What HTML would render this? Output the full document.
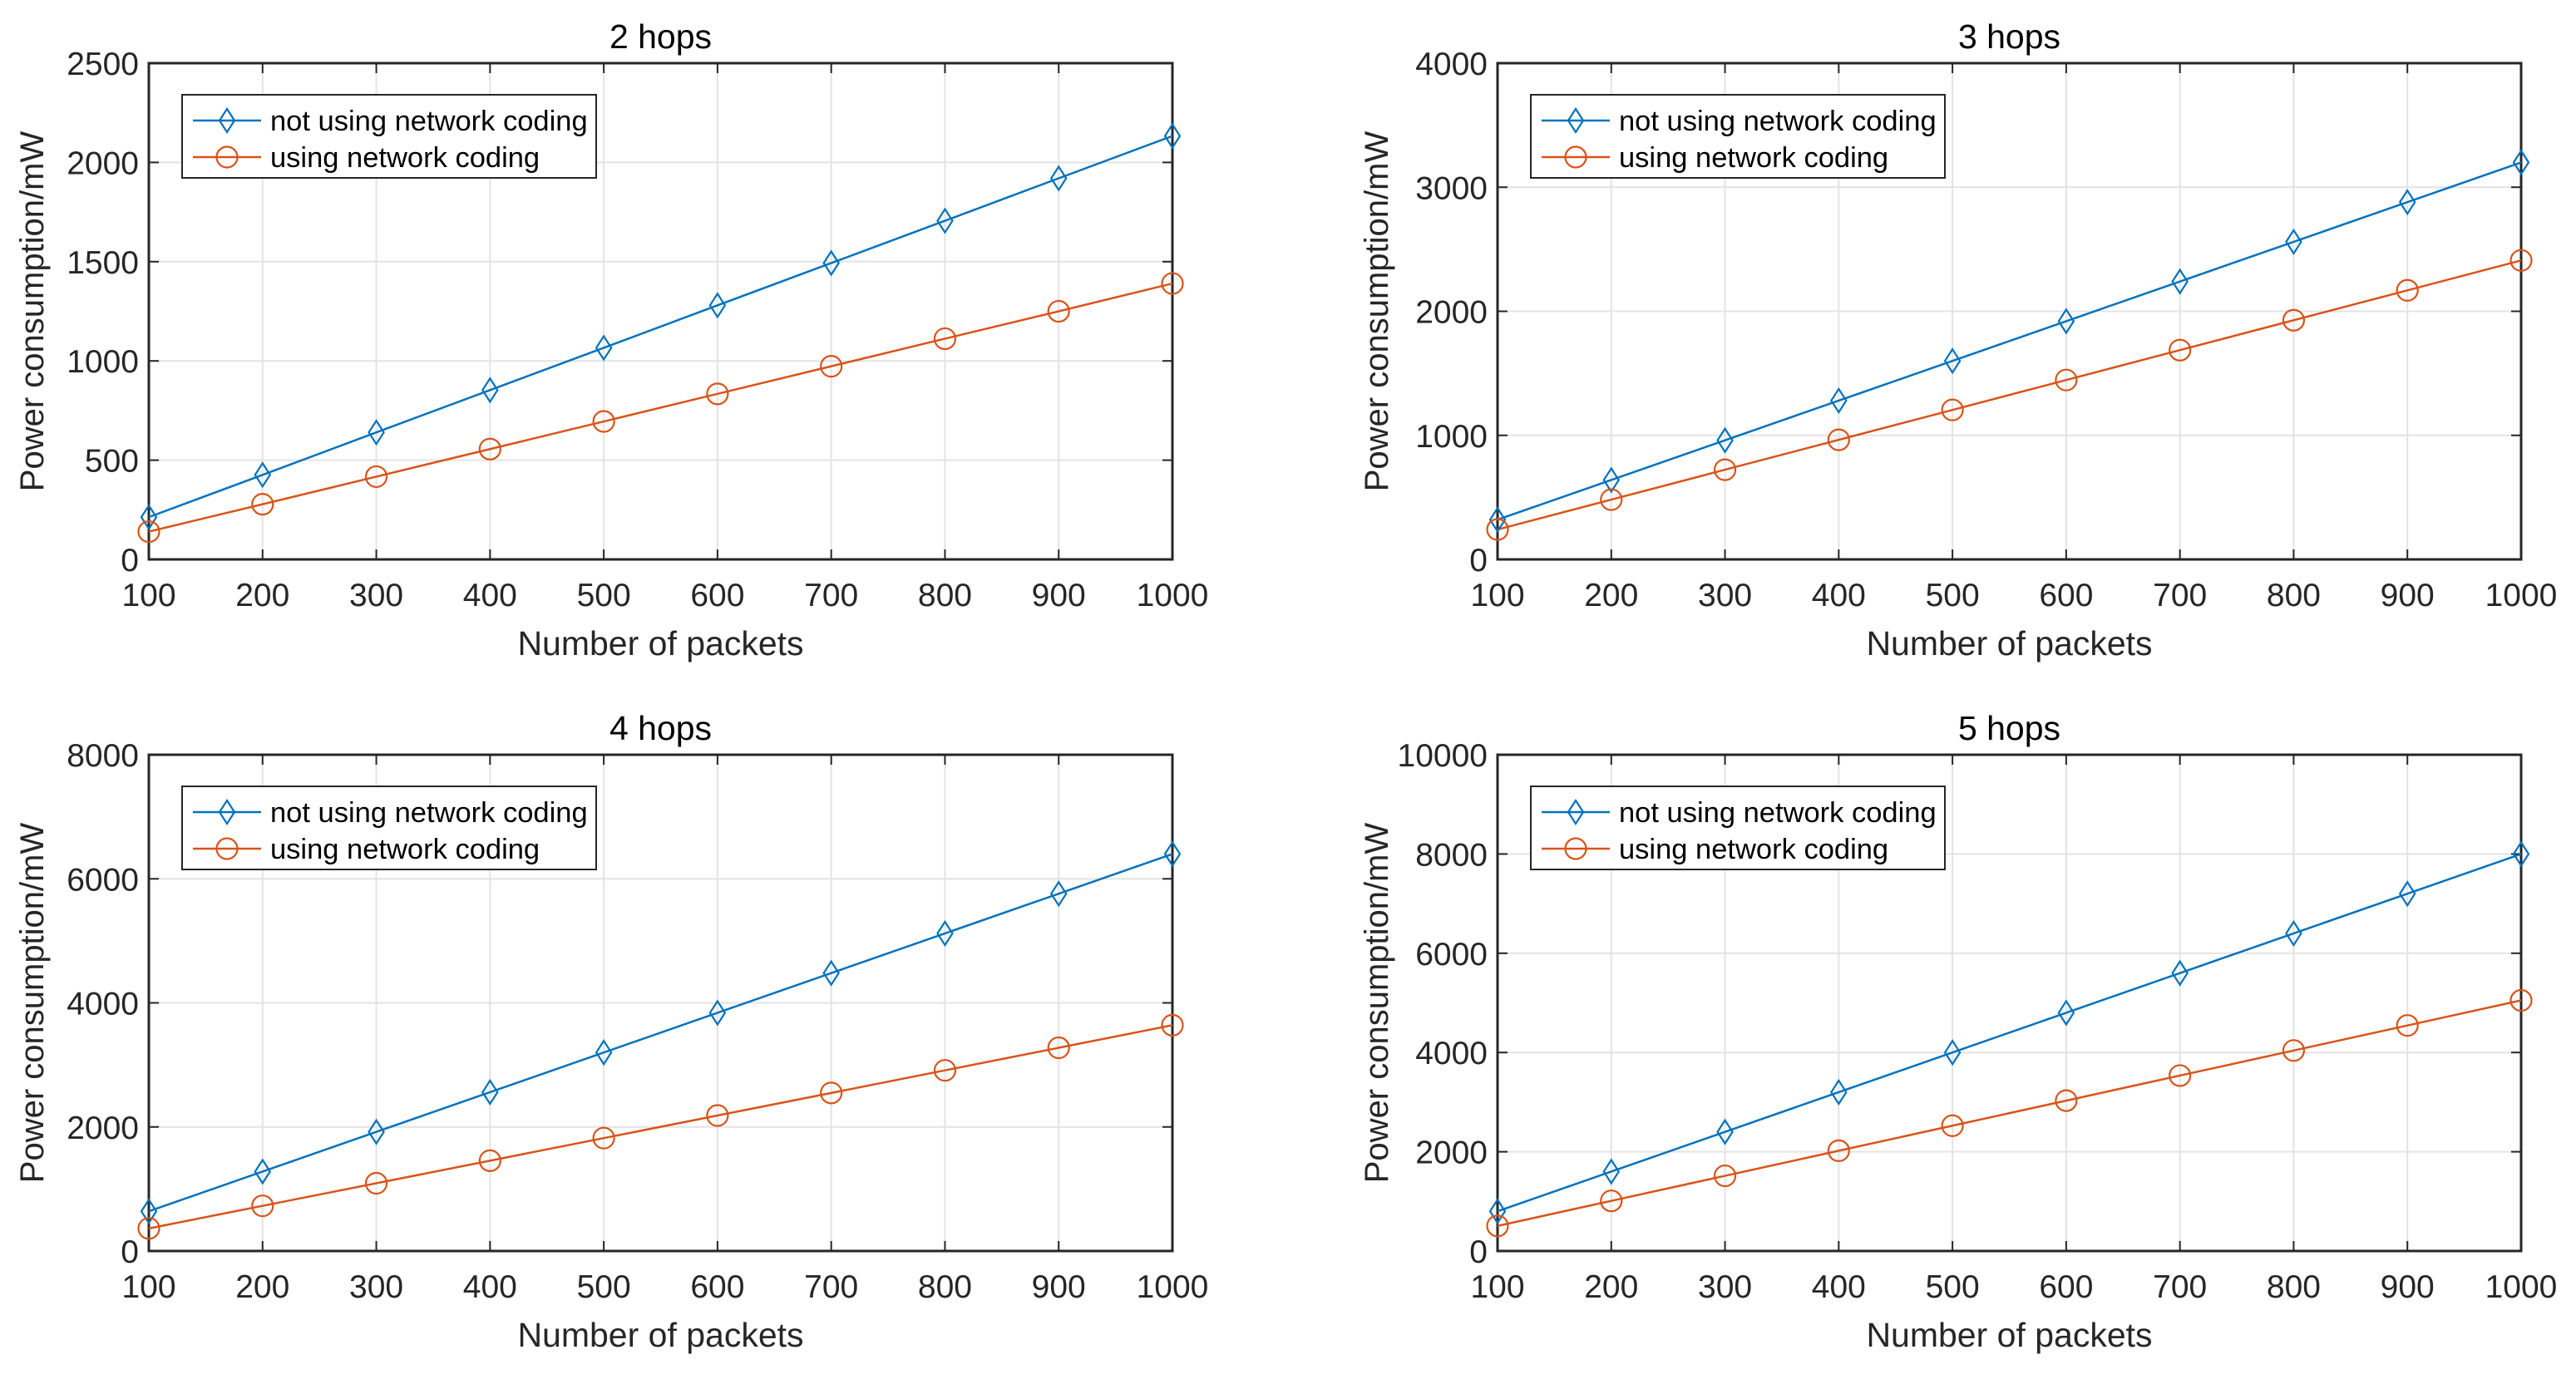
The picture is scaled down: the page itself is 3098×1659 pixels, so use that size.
<!DOCTYPE html>
<html><head><meta charset="utf-8"><style>
html,body{margin:0;padding:0;background:#fff;}
svg{display:block;font-family:"Liberation Sans",Arial,sans-serif;}
</style></head><body>
<svg id="fig" width="3098" height="1659" viewBox="0 0 3098 1659"></svg>
<script>
const categories = [100,200,300,400,500,600,700,800,900,1000];
const titles = ["2 hops","3 hops","4 hops","5 hops"];
const noCoding2 = [213,426,640,853,1066,1280,1493,1706,1920,2133];
const coding2   = [140,278,417,556,695,834,973,1112,1250,1390];
const noCoding3 = [320,640,960,1280,1600,1920,2240,2560,2880,3200];
const coding3   = [241,482,723,964,1205,1446,1687,1928,2169,2410];
const noCoding4 = [640,1280,1920,2560,3200,3840,4480,5120,5760,6400];
const coding4   = [364,728,1092,1456,1820,2184,2548,2912,3276,3640];
const noCoding5 = [800,1600,2400,3200,4000,4800,5600,6400,7200,8000];
const coding5   = [505,1010,1515,2020,2525,3030,3535,4040,4545,5050];
const yTicks2 = [0,500,1000,1500,2000,2500];
const yTicks3 = [0,1000,2000,3000,4000];
const yTicks4 = [0,2000,4000,6000,8000];
const yTicks5 = [0,2000,4000,6000,8000,10000];
const seriesNames = ["not using network coding","using network coding"];

const NS="http://www.w3.org/2000/svg";
const svg=document.getElementById('fig');
function mk(tag,attrs,parent){const e=document.createElementNS(NS,tag);for(const k in attrs)e.setAttribute(k,attrs[k]);(parent||svg).appendChild(e);return e;}
const BLUE="#0072BD", ORANGE="#D95319";
const panels=[
 {L:179,T:76,blue:noCoding2,orange:coding2,ticks:yTicks2},
 {L:1801,T:76,blue:noCoding3,orange:coding3,ticks:yTicks3},
 {L:179,T:908,blue:noCoding4,orange:coding4,ticks:yTicks4},
 {L:1801,T:908,blue:noCoding5,orange:coding5,ticks:yTicks5}
];
const W=1231,H=597;
function diamond(g,x,y){const p=mk('path',{d:`M${x} ${y-14}L${x+9} ${y}L${x} ${y+14}L${x-9} ${y}Z`,fill:'none',stroke:BLUE,'stroke-width':2.2},g);}
function circ(g,x,y){const c=mk('circle',{cx:x,cy:y,r:12.5,fill:'none',stroke:ORANGE,'stroke-width':2.2},g);}
panels.forEach((p,i)=>{
 const g=mk('g',{});
 
 
 const ymax=p.ticks[p.ticks.length-1];
 const xs=v=>p.L+(v-100)/900*W;
 const ys=v=>p.T+H-(v/ymax)*H;
 mk('rect',{x:p.L,y:p.T,width:W,height:H,fill:'#fff'},g);
 categories.forEach(c=>{
  mk('line',{x1:xs(c),x2:xs(c),y1:p.T,y2:p.T+H,stroke:'#e3e3e3','stroke-width':2},g);
  mk('line',{x1:xs(c),x2:xs(c),y1:p.T+H,y2:p.T+H-12,stroke:'#262626','stroke-width':2},g);
  mk('line',{x1:xs(c),x2:xs(c),y1:p.T,y2:p.T+12,stroke:'#262626','stroke-width':2},g);
  const t=mk('text',{x:xs(c),y:p.T+H+56,'text-anchor':'middle','font-size':39,fill:'#262626'},g);t.textContent=c;
  
 });
 p.ticks.forEach(v=>{
  mk('line',{x1:p.L,x2:p.L+W,y1:ys(v),y2:ys(v),stroke:'#e3e3e3','stroke-width':2},g);
  mk('line',{x1:p.L,x2:p.L+12,y1:ys(v),y2:ys(v),stroke:'#262626','stroke-width':2},g);
  mk('line',{x1:p.L+W,x2:p.L+W-12,y1:ys(v),y2:ys(v),stroke:'#262626','stroke-width':2},g);
  const t=mk('text',{x:p.L-12,y:ys(v)+14,'text-anchor':'end','font-size':39,fill:'#262626'},g);t.textContent=v;
  
 });
 mk('rect',{x:p.L,y:p.T,width:W,height:H,fill:'none',stroke:'#262626','stroke-width':3},g);
 const lb=mk('polyline',{points:categories.map((c,k)=>xs(c)+','+ys(p.blue[k])).join(' '),fill:'none',stroke:BLUE,'stroke-width':2.5},g);
 
 const lo=mk('polyline',{points:categories.map((c,k)=>xs(c)+','+ys(p.orange[k])).join(' '),fill:'none',stroke:ORANGE,'stroke-width':2.5},g);
 
 categories.forEach((c,k)=>{diamond(g,xs(c),ys(p.blue[k]));circ(g,xs(c),ys(p.orange[k]));});
 const tt=mk('text',{x:p.L+W/2,y:p.T-18,'text-anchor':'middle','font-size':41,fill:'#000'},g);tt.textContent=titles[i];
 
 const xl=mk('text',{x:p.L+W/2,y:p.T+H+115,'text-anchor':'middle','font-size':41,fill:'#262626'},g);xl.textContent="Number of packets";
 
 const yx=p.L-(i%2?132:127), yy=p.T+H/2;
 const yl=mk('text',{x:yx,y:yy,'text-anchor':'middle','font-size':40,fill:'#262626',transform:`rotate(-90 ${yx} ${yy})`},g);yl.textContent="Power consumption/mW";
 
 const lg=mk('g',{},g);
 
 const lx=p.L+40, ly=p.T+38;
 mk('rect',{x:lx,y:ly,width:498,height:100,fill:'#fff',stroke:'#262626','stroke-width':2},lg);
 [0,1].forEach(r=>{
  const cy=ly+31+r*44, col=r?ORANGE:BLUE;
  mk('line',{x1:lx+13,x2:lx+95,y1:cy,y2:cy,stroke:col,'stroke-width':2.5},lg);
  if(r) circ(lg,lx+54,cy); else diamond(lg,lx+54,cy);
  const t=mk('text',{x:lx+106,y:cy+12,'font-size':34.5,fill:'#000'},lg);t.textContent=seriesNames[r];
  
 });
});
</script>
</body></html>
